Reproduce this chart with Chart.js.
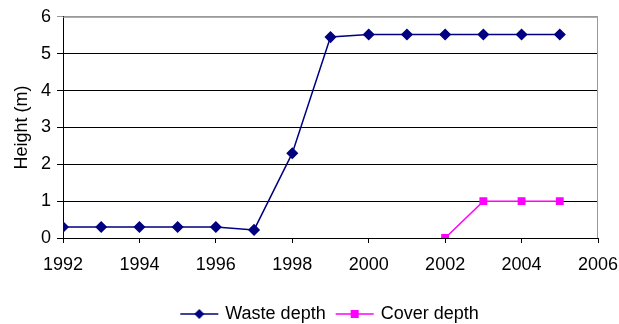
<!DOCTYPE html>
<html>
<head>
<meta charset="utf-8">
<script src="https://cdn.jsdelivr.net/npm/chart.js@4/dist/chart.umd.min.js"></script>
<style>
  html, body { margin: 0; padding: 0; background: #fff; }
  #wrap { width: 619px; height: 324px; }
</style>
</head>
<body>
<div id="wrap"><canvas id="c" width="619" height="324"></canvas></div>
<script>
// Landfill heights by year
const wasteYears = [1992, 1993, 1994, 1995, 1996, 1997, 1998, 1999, 2000, 2001, 2002, 2003, 2004, 2005];
const wasteDepth = [0.3, 0.3, 0.3, 0.3, 0.3, 0.22, 2.3, 5.45, 5.52, 5.52, 5.52, 5.52, 5.52, 5.52];
const coverYears = [2002, 2003, 2004, 2005];
const coverDepth = [0, 1, 1, 1];
const yearTicks = [1992, 1994, 1996, 1998, 2000, 2002, 2004, 2006];

const NAVY = '#000080';
const MAGENTA = '#FF00FF';
const FONT = '"Liberation Sans", Arial, sans-serif';

// Legend swatch: short line with the series marker in the middle
function swatch(color, shape) {
  const c = document.createElement('canvas');
  c.width = 40; c.height = 12;
  const g = c.getContext('2d');
  g.strokeStyle = color; g.lineWidth = 1.5;
  g.beginPath(); g.moveTo(1, 6); g.lineTo(39, 6); g.stroke();
  g.fillStyle = color;
  if (shape === 'diamond') {
    g.beginPath(); g.moveTo(20, 1); g.lineTo(25, 6); g.lineTo(20, 11); g.lineTo(15, 6); g.closePath(); g.fill();
  } else {
    g.fillRect(16, 2, 8, 8);
  }
  return c;
}
const wasteSwatch = swatch(NAVY, 'diamond');
const coverSwatch = swatch(MAGENTA, 'square');

const pairs = (xs, ys) => xs.map((x, i) => ({ x, y: ys[i] }));

// Grey frame on top and right of the plot area
const framePlugin = {
  id: 'frame',
  afterDatasetsDraw(chart) {
    const { ctx, chartArea: a } = chart;
    ctx.save();
    ctx.strokeStyle = '#999999';
    ctx.lineWidth = 1;
    ctx.beginPath();
    ctx.moveTo(a.left, a.top + 0.5);
    ctx.lineTo(a.right - 0.5, a.top + 0.5);
    ctx.lineTo(a.right - 0.5, a.bottom);
    ctx.stroke();
    ctx.restore();
  }
};

// Nudge the legend row down toward the bottom edge
const legendShift = {
  id: 'legendShift',
  afterLayout(chart) {
    const lg = chart.legend;
    if (!lg) return;
    const dy = 9;
    lg.top += dy;
    lg.bottom += dy;
  }
};

new Chart(document.getElementById('c'), {
  type: 'line',
  data: {
    datasets: [
      {
        label: 'Waste depth',
        data: pairs(wasteYears, wasteDepth),
        borderColor: NAVY,
        backgroundColor: NAVY,
        borderWidth: 1.5,
        pointStyle: 'rectRot',
        pointRadius: 5,
        pointHoverRadius: 5,
        tension: 0
      },
      {
        label: 'Cover depth',
        data: pairs(coverYears, coverDepth),
        borderColor: MAGENTA,
        backgroundColor: MAGENTA,
        borderWidth: 1.5,
        pointStyle: 'rect',
        pointRadius: 4.5,
        pointHoverRadius: 4.5,
        tension: 0
      }
    ]
  },
  options: {
    responsive: false,
    animation: false,
    events: [],
    layout: { padding: { top: 15, right: 21, left: 0, bottom: 0 } },
    scales: {
      x: {
        type: 'linear',
        min: 1992,
        max: 2006,
        afterBuildTicks(scale) { scale.ticks = yearTicks.map(v => ({ value: v })); },
        afterFit(scale) {
          scale.height = 46;
          scale.paddingLeft = 0;
          scale.paddingRight = 0;
        },
        ticks: {
          color: '#000',
          font: { family: FONT, size: 18 },
          padding: 11,
          maxRotation: 0,
          callback: v => String(v)
        },
        grid: {
          drawOnChartArea: false,
          drawTicks: true,
          tickLength: 5,
          color: '#000'
        },
        border: { color: '#000', width: 1 }
      },
      y: {
        min: 0,
        max: 6,
        afterFit(scale) { scale.width = 63; },
        ticks: {
          stepSize: 1,
          color: '#000',
          font: { family: FONT, size: 18 },
          padding: 6
        },
        grid: {
          color: ctx => (ctx.tick && ctx.tick.value === 6 ? '#999999' : '#000'),
          lineWidth: 1,
          drawTicks: true,
          tickLength: 6
        },
        border: { color: '#000', width: 1 },
        title: {
          display: true,
          text: 'Height (m)',
          color: '#000',
          font: { family: FONT, size: 18 },
          padding: { top: 11, bottom: 0 }
        }
      }
    },
    plugins: {
      tooltip: { enabled: false },
      legend: {
        position: 'bottom',
        fullSize: false,
        labels: {
          color: '#000',
          font: { family: FONT, size: 18 },
          usePointStyle: true,
          pointStyleWidth: 34,
          boxHeight: 12,
          padding: 12,
          generateLabels: () => [
            { text: 'Waste depth', pointStyle: wasteSwatch, fillStyle: NAVY, strokeStyle: NAVY, lineWidth: 0, datasetIndex: 0 },
            { text: 'Cover depth', pointStyle: coverSwatch, fillStyle: MAGENTA, strokeStyle: MAGENTA, lineWidth: 0, datasetIndex: 1 }
          ]
        }
      }
    }
  },
  plugins: [framePlugin, legendShift]
});
</script>
</body>
</html>
